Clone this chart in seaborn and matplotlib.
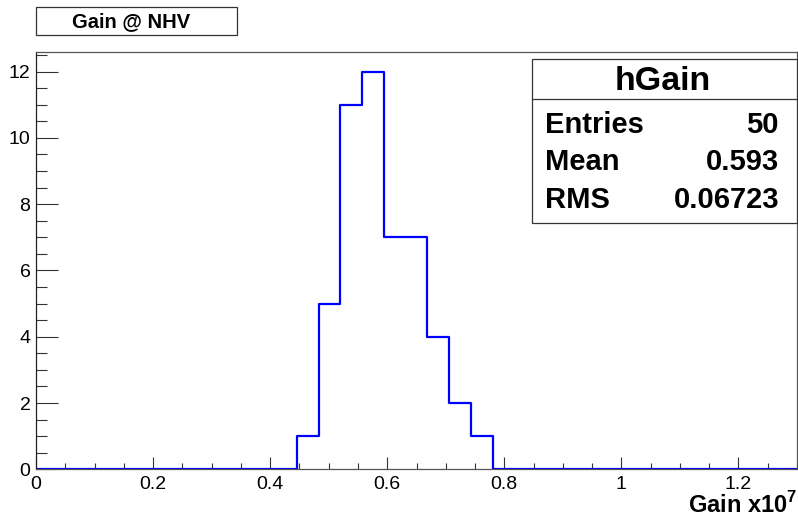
import numpy as np
import pandas as pd
import matplotlib
matplotlib.use("Agg")
import matplotlib.pyplot as plt
from matplotlib.patches import Rectangle
from matplotlib.lines import Line2D
from matplotlib.ticker import MultipleLocator
import seaborn as sns

# ---- data ----
n_bins = 35
x_min, x_max = 0.0, 1.3
bin_counts = [0]*12 + [1, 5, 11, 12, 7, 7, 4, 2, 1] + [0]*14
hist_name = "hGain"
title_text = "Gain @ NHV"
stats_labels = ["Entries", "Mean", "RMS"]
stats_values = ["50", "0.593", "0.06723"]
x_label = r"Gain x10$^{\mathbf{7}}$"

edges = np.linspace(x_min, x_max, n_bins + 1)
centers = 0.5 * (edges[:-1] + edges[1:])
df = pd.DataFrame({"gain": centers, "count": bin_counts})

sns.set_style("ticks")
plt.rcParams['font.family'] = ['Liberation Sans', 'DejaVu Sans']
plt.rcParams['text.color'] = 'black'
plt.rcParams['xtick.labelcolor'] = 'black'
plt.rcParams['ytick.labelcolor'] = 'black'
plt.rcParams['mathtext.fontset'] = 'custom'
plt.rcParams['mathtext.bf'] = 'Liberation Sans:bold'
plt.rcParams['mathtext.rm'] = 'Liberation Sans'

W, H = 798, 521
fig = plt.figure(figsize=(W/100, H/100), dpi=100)
ax_l, ax_r, ax_t, ax_b = 36, 797, 51.7, 469.3
ax = fig.add_axes([ax_l/W, 1 - ax_b/H, (ax_r-ax_l)/W, (ax_b-ax_t)/H])

sns.histplot(data=df, x="gain", weights="count", bins=n_bins, binrange=(x_min, x_max),
             element="step", fill=False, color="#0000ff", linewidth=1.6, ax=ax)

ax.set_xlim(x_min, x_max)
ax.set_ylim(0, 12.6)
ax.set_ylabel("")
ax.set_xlabel("")
ax.xaxis.set_minor_locator(MultipleLocator(0.05))
ax.yaxis.set_major_locator(MultipleLocator(2))
ax.yaxis.set_minor_locator(MultipleLocator(0.5))
ax.set_xticks([0, 0.2, 0.4, 0.6, 0.8, 1.0, 1.2])
ax.set_xticklabels(["0", "0.2", "0.4", "0.6", "0.8", "1", "1.2"])
ax.tick_params(axis='x', which='major', direction='in', length=8.6, width=0.8, labelsize=14, pad=5, color='#333333')
ax.tick_params(axis='x', which='minor', direction='in', length=4.3, width=0.8, color='#333333')
ax.tick_params(axis='y', which='major', direction='in', length=16, width=0.8, labelsize=14, pad=4, color='#333333')
ax.tick_params(axis='y', which='minor', direction='in', length=8, width=0.8, color='#333333')
for s in ax.spines.values():
    s.set_linewidth(0.9)
    s.set_color('#555555')
ax.spines['left'].set_color('#222222')

# x label
fig.text(797/W, 1 - 505/H, x_label, ha='right', va='center', fontsize=17, fontweight='bold')

def fx(px):
    return px / W
def fy(py):
    return 1 - py / H

# title box
fig.add_artist(Rectangle((fx(36), fy(35)), fx(237)-fx(36), fy(7)-fy(35),
                         transform=fig.transFigure, fill=False, edgecolor='#333333', linewidth=0.9))
fig.text(fx(131), fy(21.5), title_text, ha='center', va='center', fontsize=14.5, fontweight='bold')

# stats box
bl, br, bt, bb, bd = 532.3, 796.7, 59.3, 222.7, 99.3
fig.add_artist(Rectangle((fx(bl), fy(bb)), fx(br)-fx(bl), fy(bt)-fy(bb),
                         transform=fig.transFigure, facecolor='white', edgecolor='#333333', linewidth=0.9))
fig.add_artist(Line2D([fx(bl), fx(br)], [fy(bd), fy(bd)], transform=fig.transFigure,
                      color='#333333', linewidth=0.9))
fig.text(fx(662.5), fy(82), hist_name, ha='center', va='center', fontsize=24.5, fontweight='bold')
row_y = [125, 162.5, 199.5]
for lab, val, yy in zip(stats_labels, stats_values, row_y):
    fig.text(fx(545), fy(yy), lab, ha='left', va='center', fontsize=21, fontweight='bold')
    fig.text(fx(779), fy(yy), val, ha='right', va='center', fontsize=21, fontweight='bold')

fig.savefig("out.png", dpi=100)
